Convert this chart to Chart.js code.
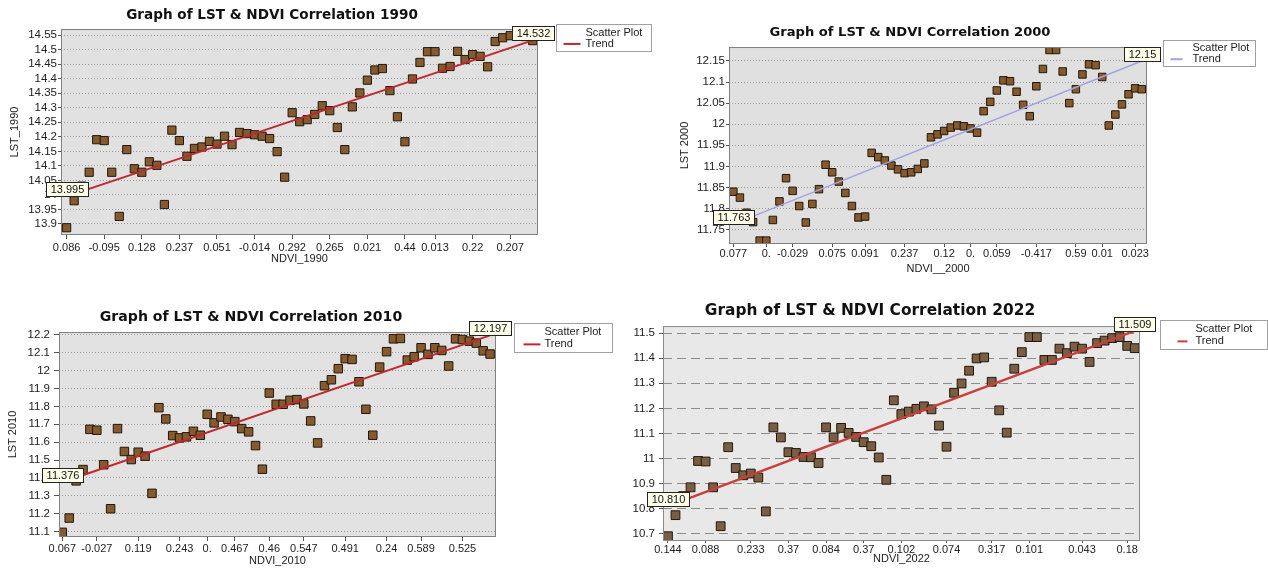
<!DOCTYPE html>
<html>
<head>
<meta charset="utf-8">
<script src="https://cdn.jsdelivr.net/npm/chart.js@4.4.1/dist/chart.umd.min.js"></script>
<style>
  body { margin: 0; background: #fff; width: 1268px; height: 573px; position: relative; overflow: hidden; }
  canvas { position: absolute; }
</style>
</head>
<body>
<canvas id="c1990" width="660" height="290" style="left:0;top:0"></canvas>
<canvas id="c2000" width="608" height="290" style="left:660px;top:0"></canvas>
<canvas id="c2010" width="630" height="278" style="left:0;top:295px"></canvas>
<canvas id="c2022" width="668" height="283" style="left:600px;top:290px;filter:blur(0.6px)"></canvas>
<script>
// LST values per point (points are plotted in row order along x)
const lst1990 = [13.887, 13.98, 14.03, 14.078, 14.19, 14.187, 14.078, 13.926, 14.156, 14.09,
  14.078, 14.114, 14.102, 13.967, 14.223, 14.187, 14.133, 14.16, 14.165, 14.184,
  14.175, 14.202, 14.173, 14.215, 14.211, 14.207, 14.202, 14.194, 14.149, 14.061,
  14.283, 14.252, 14.259, 14.277, 14.307, 14.29, 14.232, 14.156, 14.303, 14.351,
  14.395, 14.43, 14.435, 14.359, 14.269, 14.183, 14.399, 14.456, 14.493, 14.493,
  14.436, 14.442, 14.494, 14.466, 14.483, 14.477, 14.441, 14.528, 14.541, 14.548,
  14.556, 14.545, 14.531];
const ndviPos1990 = [0, 5, 10, 15, 20, 25, 30, 35, 40, 45, 49, 54, 59];
const ndviTicks1990 = ['0.086', '-0.095', '0.128', '0.237', '0.051', '-0.014', '0.292', '0.265', '0.021', '0.44', '0.013', '0.22', '0.207'];
const lstTicks1990 = [13.9, 13.95, 14, 14.05, 14.1, 14.15, 14.2, 14.25, 14.3, 14.35, 14.4, 14.45, 14.5, 14.55];
const trend1990 = [13.995, 14.532];
const trendLbl1990 = ['13.995', '14.532'];

const lst2000 = [11.84, 11.826, 11.79, 11.768, 11.724, 11.724, 11.773, 11.817, 11.872, 11.842,
  11.806, 11.767, 11.811, 11.846, 11.904, 11.886, 11.864, 11.837, 11.806, 11.779,
  11.781, 11.932, 11.922, 11.914, 11.902, 11.893, 11.884, 11.886, 11.894, 11.907,
  11.969, 11.976, 11.984, 11.992, 11.997, 11.995, 11.99, 11.98, 12.031, 12.053,
  12.08, 12.104, 12.102, 12.077, 12.046, 12.019, 12.09, 12.131, 12.176, 12.176,
  12.125, 12.05, 12.083, 12.118, 12.142, 12.14, 12.112, 11.997, 12.023, 12.047,
  12.071, 12.085, 12.083];
const ndviPos2000 = [0, 5, 9, 15, 20, 26, 32, 36, 40, 46, 52, 56, 61];
const ndviTicks2000 = ['0.077', '0.', '-0.029', '0.075', '0.091', '0.237', '0.12', '0.', '0.059', '-0.417', '0.59', '0.01', '0.023'];
const lstTicks2000 = [11.75, 11.8, 11.85, 11.9, 11.95, 12, 12.05, 12.1, 12.15];
const trend2000 = [11.763, 12.15];
const trendLbl2000 = ['11.763', '12.15'];

const lst2010 = [11.096, 11.176, 11.384, 11.447, 11.672, 11.667, 11.474, 11.228, 11.676, 11.548,
  11.503, 11.544, 11.522, 11.314, 11.793, 11.73, 11.637, 11.624, 11.63, 11.661,
  11.639, 11.756, 11.708, 11.741, 11.728, 11.715, 11.676, 11.658, 11.581, 11.449,
  11.875, 11.812, 11.812, 11.834, 11.838, 11.814, 11.719, 11.596, 11.916, 11.949,
  12.011, 12.067, 12.063, 11.938, 11.784, 11.639, 12.02, 12.106, 12.178, 12.18,
  12.059, 12.078, 12.128, 12.091, 12.128, 12.113, 12.026, 12.178, 12.174, 12.165,
  12.154, 12.111, 12.093];
const ndviPos2010 = [0, 5, 11, 17, 21, 25, 30, 35, 41, 47, 52, 58];
const ndviTicks2010 = ['0.067', '-0.027', '0.119', '0.243', '0.', '0.467', '0.46', '0.547', '0.491', '0.24', '0.589', '0.525'];
const lstTicks2010 = [11.1, 11.2, 11.3, 11.4, 11.5, 11.6, 11.7, 11.8, 11.9, 12, 12.1, 12.2];
const trend2010 = [11.376, 12.197];
const trendLbl2010 = ['11.376', '12.197'];

const lst2022 = [10.69, 10.774, 10.85, 10.885, 10.99, 10.988, 10.885, 10.73, 11.045, 10.962,
  10.933, 10.94, 10.924, 10.789, 11.124, 11.084, 11.025, 11.022, 11.006, 11.005,
  10.982, 11.124, 11.084, 11.122, 11.102, 11.086, 11.065, 11.049, 11.004, 10.915,
  11.232, 11.177, 11.187, 11.198, 11.208, 11.196, 11.131, 11.047, 11.262, 11.299,
  11.35, 11.399, 11.403, 11.306, 11.192, 11.103, 11.358, 11.424, 11.484, 11.484,
  11.393, 11.393, 11.438, 11.42, 11.446, 11.438, 11.385, 11.46, 11.47, 11.48,
  11.484, 11.449, 11.44];
const ndviPos2022 = [0, 5, 11, 16, 21, 26, 31, 37, 43, 48, 55, 61];
const ndviTicks2022 = ['0.144', '0.088', '0.233', '0.37', '0.084', '0.37', '0.102', '0.074', '0.317', '0.101', '0.043', '0.18'];
const lstTicks2022 = [10.7, 10.8, 10.9, 11, 11.1, 11.2, 11.3, 11.4, 11.5];
const trend2022 = [10.81, 11.509];
const trendLbl2022 = ['10.810', '11.509'];

const FONT = "'Liberation Sans', Arial, sans-serif";
const TITLE_FONT = "'DejaVu Sans', Verdana, sans-serif";
Chart.defaults.font.family = FONT;
Chart.defaults.color = '#222';

// plot background, frame, end-value boxes and the small legend box
const framePlugin = {
  id: 'frame',
  beforeDraw(chart, args, o) {
    const a = chart.chartArea, ctx = chart.ctx;
    ctx.save();
    ctx.fillStyle = o.bg;
    ctx.fillRect(a.left, a.top, a.right - a.left, a.bottom - a.top);
    ctx.restore();
  },
  afterDraw(chart, args, o) {
    const a = chart.chartArea, ctx = chart.ctx;
    ctx.save();
    ctx.strokeStyle = o.border;
    ctx.lineWidth = 1;
    ctx.strokeRect(a.left + 0.5, a.top + 0.5, a.right - a.left - 1, a.bottom - a.top - 1);

    const pts = chart.getDatasetMeta(1).data;
    ctx.font = '11px ' + FONT;
    ctx.textAlign = 'center';
    ctx.textBaseline = 'middle';
    o.labels.forEach((t, k) => {
      const p = pts[k === 0 ? 0 : pts.length - 1];
      const w = Math.round(ctx.measureText(t).width + 8), h = 14;
      const x = Math.round(p.x - w / 2) + 0.5, y = Math.round(p.y - h) + 0.5;
      ctx.fillStyle = '#ffffea';
      ctx.fillRect(x, y, w, h);
      ctx.strokeStyle = '#222';
      ctx.strokeRect(x, y, w, h);
      ctx.fillStyle = '#111';
      ctx.fillText(t, x + w / 2, y + h / 2 + 0.5);
    });

    const L = o.legend, ds = chart.data.datasets;
    const lx = Math.round(a.right + L.dx) + 0.5, ly = Math.round(a.top + L.dy) + 0.5;
    ctx.fillStyle = '#fff';
    ctx.fillRect(lx, ly, L.w, L.h);
    ctx.strokeStyle = '#a0a0a0';
    ctx.strokeRect(lx, ly, L.w, L.h);
    ctx.textAlign = 'left';
    ctx.fillStyle = '#222';
    ctx.fillText(ds[0].label, lx + L.tx, ly + L.h * 0.3);
    ctx.fillText(ds[1].label, lx + L.tx, ly + L.h * 0.72);
    ctx.strokeStyle = ds[1].borderColor;
    ctx.lineWidth = 2;
    ctx.beginPath();
    ctx.moveTo(lx + L.l1, ly + L.h * 0.72);
    ctx.lineTo(lx + L.l2, ly + L.h * 0.72);
    ctx.stroke();
    ctx.restore();
  }
};

function makeChart(id, c) {
  return new Chart(document.getElementById(id), {
    type: 'scatter',
    data: {
      datasets: [{
        label: 'Scatter Plot',
        data: c.lst.map((v, i) => ({ x: i, y: v })),
        pointStyle: 'rect',
        pointRadius: c.r,
        backgroundColor: c.pointColor,
        borderColor: '#24170a',
        borderWidth: 1,
        order: 1
      }, {
        type: 'line',
        label: 'Trend',
        data: [{ x: 0, y: c.trend[0] }, { x: c.lst.length - 1, y: c.trend[1] }],
        borderColor: c.trendColor,
        borderWidth: c.trendWidth,
        pointRadius: 0,
        fill: false,
        order: 0
      }]
    },
    options: {
      responsive: false,
      animation: false,
      events: [],
      layout: { padding: c.pad },
      plugins: {
        legend: { display: false },
        tooltip: { enabled: false },
        title: {
          display: true,
          text: 'Graph of LST & NDVI Correlation ' + c.year,
          font: { family: TITLE_FONT, size: c.titleSize, weight: 'bold' },
          color: '#111',
          padding: c.titlePad
        },
        frame: { bg: c.bg, border: c.frame, labels: c.trendLbl, legend: c.legend }
      },
      scales: {
        x: {
          type: 'linear',
          min: c.xr[0], max: c.xr[1],
          afterBuildTicks: s => { s.ticks = c.ndviPos.map(v => ({ value: v })); },
          afterFit: s => { s.height = c.hx; s.paddingLeft = 0; s.paddingRight = 0; },
          ticks: { autoSkip: false, maxRotation: 0, padding: c.xtp, font: { size: 11 }, color: '#222',
                   callback: (v, i) => c.ndviTicks[i] },
          grid: { drawOnChartArea: false, tickLength: c.xtl, tickColor: '#555' },
          border: { display: false },
          title: { display: true, text: c.xTitle, font: { size: 11 }, color: '#222', padding: { top: 0, bottom: c.xtitlePad } }
        },
        y: {
          type: 'linear',
          min: c.yr[0], max: c.yr[1],
          afterBuildTicks: s => { s.ticks = c.lstTicks.map(v => ({ value: v })); },
          afterFit: s => { s.width = c.wy; s.paddingTop = 0; s.paddingBottom = 0; },
          ticks: { autoSkip: false, padding: c.ytp, font: { size: 11.5 }, color: '#222', callback: v => String(v) },
          grid: { color: c.gridColor, lineWidth: 1, tickLength: c.ytl, tickColor: '#555' },
          border: { display: false, dash: c.gridDash },
          title: { display: !!c.yTitle, text: c.yTitle, font: { size: 11 }, color: '#222', padding: { top: c.ytitlePad, bottom: 0 } }
        }
      }
    },
    plugins: [framePlugin]
  });
}

const brown = '#855a2e';

makeChart('c1990', {
  year: '1990', lst: lst1990, ndviPos: ndviPos1990, ndviTicks: ndviTicks1990, lstTicks: lstTicks1990,
  trend: trend1990, trendLbl: trendLbl1990, xTitle: 'NDVI_1990', yTitle: 'LST_1990',
  pad: { left: 6, right: 122, top: 0, bottom: 20 }, wy: 55, hx: 35,
  titleSize: 13.6, titlePad: { top: 7.8, bottom: 4.9 }, xtitlePad: 4, ytitlePad: 2,
  xtl: 4, xtp: 2, ytl: 3, ytp: 1, xr: [-0.75, 62.7], yr: [13.862, 14.571],
  r: 5.8, pointColor: brown, trendColor: '#c1272d', trendWidth: 2,
  bg: '#e1e1e1', frame: '#808080', gridColor: '#9a9a9a', gridDash: [1, 2],
  legend: { dx: 18, dy: -5, w: 95, h: 27, tx: 29, l1: 7, l2: 24 }
});

makeChart('c2000', {
  year: '2000', lst: lst2000, ndviPos: ndviPos2000, ndviTicks: ndviTicks2000, lstTicks: lstTicks2000,
  trend: trend2000, trendLbl: trendLbl2000, xTitle: 'NDVI__2000', yTitle: 'LST 2000',
  pad: { left: 13, right: 121, top: 0, bottom: 12 }, wy: 56, hx: 34,
  titleSize: 13.1, titlePad: { top: 25.1, bottom: 6.2 }, xtitlePad: 2, ytitlePad: 5,
  xtl: 3, xtp: 0, ytl: 3, ytp: 1, xr: [-0.66, 62.8], yr: [11.716, 12.183],
  r: 5.3, pointColor: brown, trendColor: '#a3a3e0', trendWidth: 1.5,
  bg: '#e0e0e0', frame: '#808080', gridColor: '#9a9a9a', gridDash: [1, 2],
  legend: { dx: 16, dy: -7, w: 92, h: 26, tx: 29, l1: 7, l2: 19 }
});

makeChart('c2010', {
  year: '2010', lst: lst2010, ndviPos: ndviPos2010, ndviTicks: ndviTicks2010, lstTicks: lstTicks2010,
  trend: trend2010, trendLbl: trendLbl2010, xTitle: 'NDVI_2010', yTitle: 'LST 2010',
  pad: { left: 6, right: 134, top: 0, bottom: 3 }, wy: 53, hx: 33,
  titleSize: 14.1, titlePad: { top: 13.5, bottom: 6.6 }, xtitlePad: 2, ytitlePad: 0,
  xtl: 4, xtp: 1, ytl: 5, ytp: 4, xr: [-0.48, 62.86], yr: [11.07, 12.216],
  r: 6, pointColor: brown, trendColor: '#c1272d', trendWidth: 2,
  bg: '#e2e2e2', frame: '#808080', gridColor: '#9a9a9a', gridDash: [1, 2],
  legend: { dx: 18, dy: -9, w: 98, h: 29, tx: 30, l1: 9, l2: 26 }
});

makeChart('c2022', {
  year: '2022', lst: lst2022, ndviPos: ndviPos2022, ndviTicks: ndviTicks2022, lstTicks: lstTicks2022,
  trend: trend2022, trendLbl: trendLbl2022, xTitle: 'NDVI_2022', yTitle: '',
  pad: { left: 0, right: 128, top: 0, bottom: 6 }, wy: 63, hx: 26,
  titleSize: 15.4, titlePad: { top: 11.8, bottom: 5.8 }, xtitlePad: 1, ytitlePad: 0,
  xtl: 2, xtp: 0, ytl: 4, ytp: 4, xr: [-0.66, 62.7], yr: [10.671, 11.528],
  r: 6.2, pointColor: '#7a5e44', trendColor: '#c9403a', trendWidth: 2.5,
  bg: '#e8e8e8', frame: '#8a8a8a', gridColor: '#8c8c8c', gridDash: [9, 5],
  legend: { dx: 20, dy: -6, w: 107, h: 29, tx: 35, l1: 17, l2: 27 }
});
</script>
</body>
</html>
